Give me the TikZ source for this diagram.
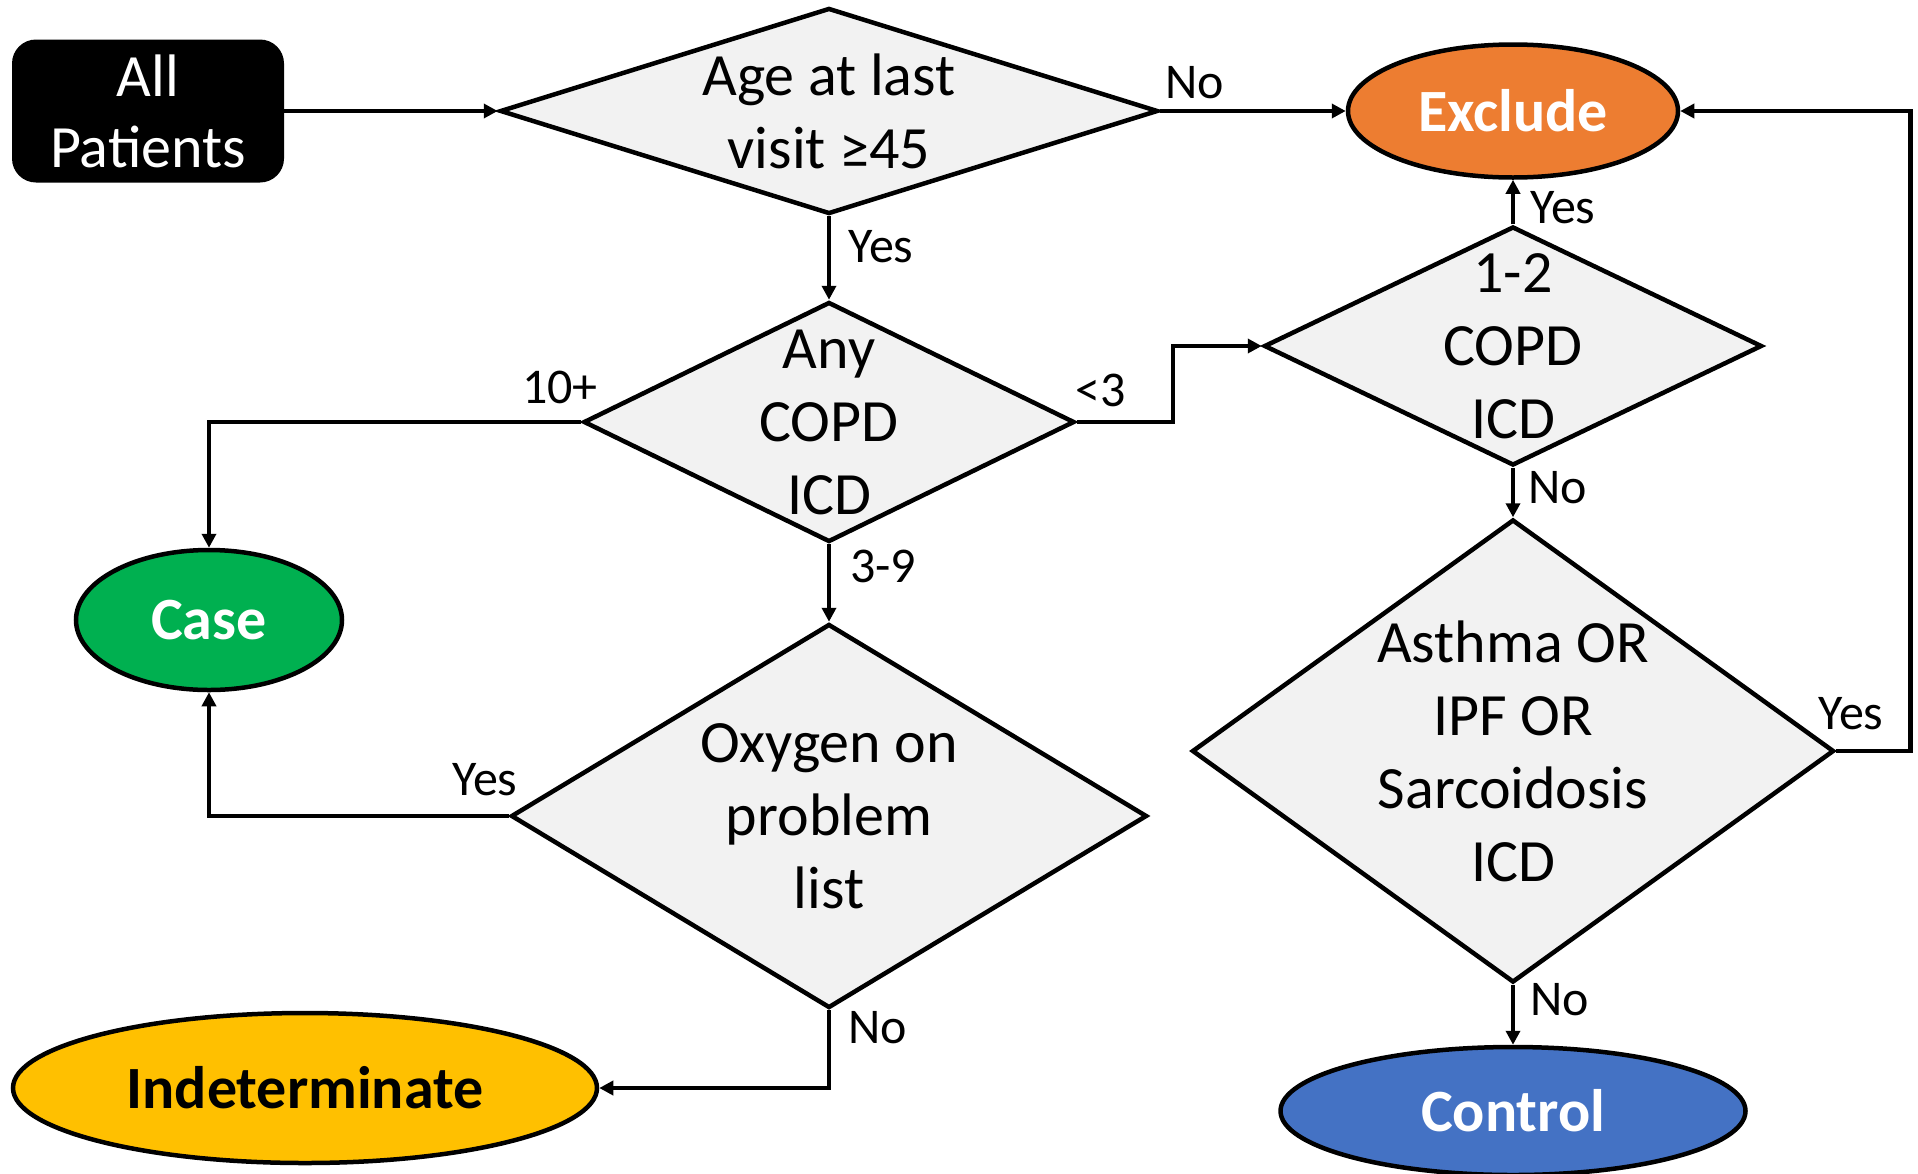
\documentclass[tikz,border=0pt]{standalone}
\usepackage{fontspec}
\setmainfont{Carlito}
\usetikzlibrary{shapes.geometric,arrows.meta}
\definecolor{boxgray}{HTML}{F2F2F2}
\definecolor{exorange}{HTML}{ED7D31}
\definecolor{casegreen}{HTML}{00B050}
\definecolor{indyellow}{HTML}{FFC000}
\definecolor{ctrlblue}{HTML}{4472C4}
\tikzstyle{node_start} = [rectangle, rounded corners=24pt, fill=black, text=white, minimum width=272pt, minimum height=143pt, inner sep=0pt, align=center, font=\fontsize{60}{71}\selectfont]
\tikzstyle{node_decision} = [diamond, draw, line width=4.5pt, fill=boxgray, inner sep=0pt]
\tikzstyle{node_text} = [align=center, inner sep=0pt, font=\fontsize{60}{73}\selectfont]
\tikzstyle{node_end} = [ellipse, draw, line width=4.5pt, inner sep=0pt, font=\fontsize{60}{72}\selectfont\bfseries]
\tikzstyle{edge_label} = [anchor=base west, inner sep=0pt, font=\fontsize{50}{60}\selectfont]
\tikzstyle{edge_flow} = [line width=4.5pt, -{Triangle[length=14pt,width=14pt]}]

\begin{document}
\begin{tikzpicture}[x=1pt, y=-1pt]
\def\colL{209}
\def\colM{829}
\def\colR{1513}
\useasboundingbox (0,0) rectangle (1918,1173);

\node (start) at (148, 111) [node_start] {All\\Patients};
\node (age) at (\colM, 111) [node_decision, minimum width=658pt, minimum height=206pt, label={[node_text, name=age_text]center:{Age at last\\visit ≥45}}] {};
\node (exclude) at (\colR, 111) [node_end, fill=exorange, text=white, minimum width=330pt, minimum height=133pt] {Exclude};
\node (copd) at (\colM, 422) [node_decision, minimum width=491pt, minimum height=240pt, label={[node_text, name=copd_text]center:{Any\\COPD\\ICD}}] {};
\node (few) at (\colR, 346) [node_decision, minimum width=498pt, minimum height=239pt, label={[node_text, name=few_text]center:{1-2\\COPD\\ICD}}] {};
\node (case) at (\colL, 620) [node_end, fill=casegreen, text=white, minimum width=266pt, minimum height=140pt] {Case};
\node (oxygen) at (\colM, 816) [node_decision, minimum width=636pt, minimum height=384pt, label={[node_text, name=oxygen_text]center:{Oxygen on\\problem\\list}}] {};
\node (dx) at (\colR, 751) [node_decision, minimum width=642pt, minimum height=463pt, label={[node_text, name=dx_text]center:{Asthma OR\\IPF OR\\Sarcoidosis\\ICD}}] {};
\node (indet) at (305, 1088) [node_end, fill=indyellow, minimum width=584pt, minimum height=150pt] {Indeterminate};
\node (control) at (\colR, 1111) [node_end, fill=ctrlblue, text=white, minimum width=465pt, minimum height=128pt] {Control};

\draw[edge_flow] (start.east) -- (age.west);
\draw[edge_flow] (age.east) -- (exclude.west);
\draw[edge_flow] (age.south) -- (copd.north);
\draw[edge_flow] (copd.west) -| (case.north);
\draw[edge_flow] (copd.east) -- ++(96,0) |- (few.west);
\draw[edge_flow] (copd.south) -- (oxygen.north);
\draw[edge_flow] (few.north) -- (exclude.south);
\draw[edge_flow] (few.south) -- (dx.north);
\draw[edge_flow] (oxygen.west) -| (case.south);
\draw[edge_flow] (oxygen.south) |- (indet.east);
\draw[edge_flow] (dx.east) -- ++(74,0) |- (exclude.east);
\draw[edge_flow] (dx.south) -- (control.north);

\node (age_no) at (1165, 98) [edge_label] {No};
\node (age_yes) at (848, 262) [edge_label] {Yes};
\node (copd_many) at (522, 403) [edge_label] {10+};
\node (copd_less) at (1075, 406) [edge_label] {<3};
\node (copd_some) at (850, 582) [edge_label] {3-9};
\node (few_yes) at (1530, 223) [edge_label] {Yes};
\node (few_no) at (1528, 503) [edge_label] {No};
\node (oxygen_yes) at (452, 795) [edge_label] {Yes};
\node (oxygen_no) at (848, 1043) [edge_label] {No};
\node (dx_yes) at (1818, 729) [edge_label] {Yes};
\node (dx_no) at (1530, 1015) [edge_label] {No};
\end{tikzpicture}
\end{document}
